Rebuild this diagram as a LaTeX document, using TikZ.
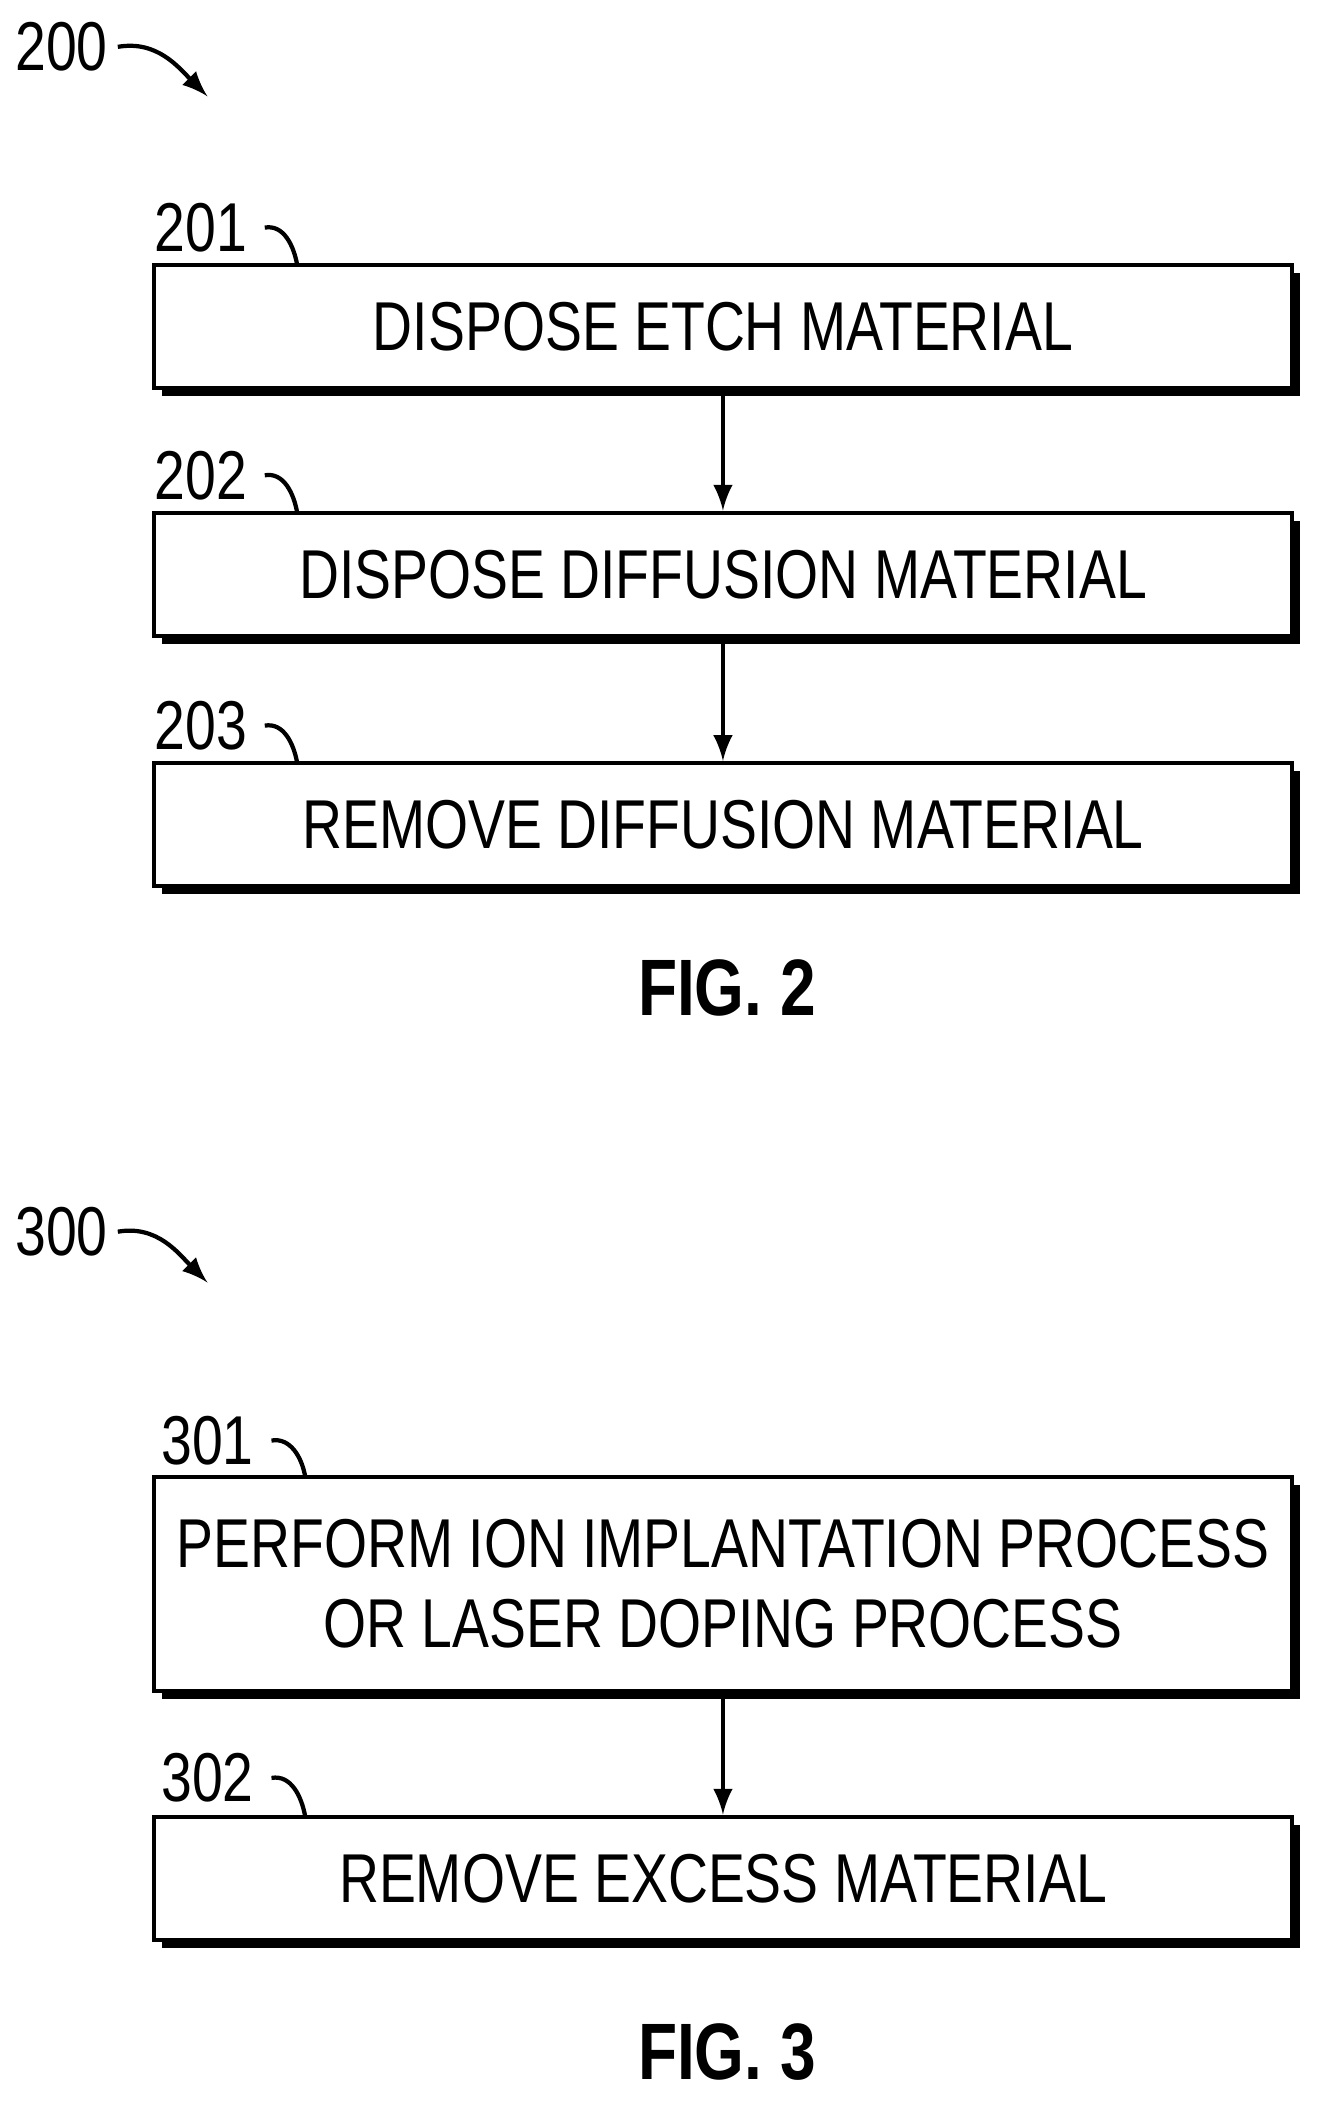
\documentclass[tikz,border=0pt]{standalone}
\usepackage{fontspec}
\setmainfont{Liberation Sans}[FakeStretch=0.8]
\usetikzlibrary{positioning}
\begin{document}
\begin{tikzpicture}[x=1mm,y=-1mm,line width=.9pt,
  stepbox/.style={draw,fill=white,minimum width=85mm,inner sep=0pt,align=center,
    font=\fontsize{14.7}{17}\selectfont},
  shade/.style={fill=black},
  num/.style={font=\fontsize{14.7}{17}\selectfont},
  fig/.style={font=\bfseries\fontsize{17}{20}\selectfont}]
\useasboundingbox (0,0) rectangle (100,158.8);

% FIG. 2
\node[num] (n200) at (4.6,3.5) {200};
\draw[-latex] (8.8,3.5) to[out=10,in=135] (15.5,7.2);

\fill[shade] (12.1,20.4) rectangle (97.1,29.6);
\node[stepbox,minimum height=9.2mm] (s201) at (54,24.4) {DISPOSE ETCH MATERIAL};
\fill[shade] (12.1,38.9) rectangle (97.1,48.1);
\node[stepbox,minimum height=9.2mm] (s202) at (54,42.9) {DISPOSE DIFFUSION MATERIAL};
\fill[shade] (12.1,57.6) rectangle (97.1,66.8);
\node[stepbox,minimum height=9.2mm] (s203) at (54,61.6) {REMOVE DIFFUSION MATERIAL};
\draw[-latex] (s201) -- (s202);
\draw[-latex] (s202) -- (s203);

\node[num] (n201) at (15,17) {201};
\draw (n201.east) to[out=10,in=100] (22.2,19.8);
\node[num] (n202) at (15,35.5) {202};
\draw (n202.east) to[out=10,in=100] (22.2,38.3);
\node[num] (n203) at (15,54.2) {203};
\draw (n203.east) to[out=10,in=100] (22.2,57);
\node[fig] (f2) at (54.3,73.8) {FIG. 2};

% FIG. 3
\node[num] (n300) at (4.6,92) {300};
\draw[-latex] (8.8,92) to[out=10,in=135] (15.5,95.8);

\fill[shade] (12.1,110.9) rectangle (97.1,126.9);
\node[stepbox,minimum height=16mm] (s301) at (54,118.3)
  {PERFORM ION IMPLANTATION PROCESS\\OR LASER DOPING PROCESS};
\fill[shade] (12.1,136.3) rectangle (97.1,145.5);
\node[stepbox,minimum height=9.2mm] (s302) at (54,140.3) {REMOVE EXCESS MATERIAL};
\draw[-latex] (s301) -- (s302);

\node[num] (n301) at (15.5,107.6) {301};
\draw (n301.east) to[out=10,in=100] (22.8,110.3);
\node[num] (n302) at (15.5,132.8) {302};
\draw (n302.east) to[out=10,in=100] (22.8,135.7);
\node[fig] (f3) at (54.3,153.3) {FIG. 3};
\end{tikzpicture}
\end{document}
